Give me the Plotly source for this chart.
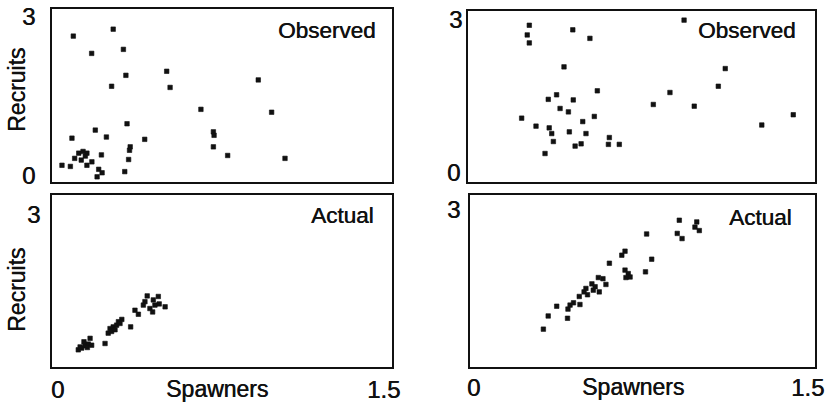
import plotly.graph_objects as go

# Spawner / recruit pairs for each panel
obs_left_x = [0.094, 0.270, 0.175, 0.315, 0.326, 0.263, 0.506, 0.521, 0.910, 0.657,
              0.969, 0.712, 0.715, 0.712, 0.775, 1.028, 0.088, 0.191, 0.240, 0.331,
              0.409, 0.345, 0.342, 0.338, 0.321, 0.218, 0.118, 0.137, 0.154, 0.147,
              0.100, 0.129, 0.154, 0.176, 0.044, 0.081, 0.206, 0.221, 0.199]
obs_left_y = [2.53, 2.65, 2.23, 2.30, 1.85, 1.66, 1.92, 1.64, 1.77, 1.26,
              1.21, 0.87, 0.81, 0.61, 0.46, 0.41, 0.76, 0.90, 0.78, 1.01,
              0.74, 0.61, 0.55, 0.39, 0.18, 0.47, 0.50, 0.53, 0.50, 0.45,
              0.41, 0.38, 0.29, 0.35, 0.29, 0.27, 0.22, 0.16, 0.09]

obs_right_x = [0.265, 0.256, 0.265, 0.453, 0.527, 0.934, 0.415, 1.112, 1.082, 0.873,
               0.559, 0.801, 0.978, 0.347, 0.383, 0.455, 0.398, 0.434, 0.232, 0.546,
               0.496, 0.294, 0.351, 0.362, 0.438, 0.510, 0.369, 0.611, 0.607, 0.654,
               0.463, 0.489, 0.333, 1.270, 1.406]
obs_right_y = [2.75, 2.58, 2.44, 2.67, 2.52, 2.84, 2.02, 1.99, 1.68, 1.57,
               1.60, 1.36, 1.33, 1.45, 1.53, 1.44, 1.29, 1.23, 1.12, 1.15,
               1.06, 0.98, 0.95, 0.85, 0.88, 0.85, 0.71, 0.78, 0.66, 0.66,
               0.63, 0.67, 0.50, 1.00, 1.18]

act_left_x = [0.116, 0.131, 0.146, 0.160, 0.168, 0.141, 0.124, 0.156, 0.175, 0.234,
              0.248, 0.256, 0.270, 0.285, 0.308, 0.293, 0.263, 0.278, 0.300, 0.347,
              0.366, 0.381, 0.403, 0.410, 0.420, 0.432, 0.444, 0.447, 0.469, 0.473,
              0.499, 0.454]
act_left_y = [0.30, 0.33, 0.37, 0.40, 0.50, 0.44, 0.35, 0.34, 0.38, 0.41,
              0.59, 0.67, 0.70, 0.73, 0.83, 0.79, 0.62, 0.65, 0.76, 0.70,
              0.99, 0.92, 1.08, 1.14, 1.24, 1.02, 0.96, 1.17, 1.23, 1.10,
              1.05, 1.08]

act_right_x = [0.319, 0.340, 0.377, 0.424, 0.426, 0.435, 0.450, 0.478, 0.475, 0.496,
               0.504, 0.511, 0.530, 0.536, 0.544, 0.562, 0.558, 0.578, 0.591, 0.606,
               0.660, 0.674, 0.674, 0.688, 0.696, 0.678, 0.763, 0.768, 0.790, 0.910,
               0.901, 0.922, 0.986, 0.978, 0.997]
act_right_y = [0.66, 0.89, 1.06, 0.85, 1.01, 1.08, 1.12, 1.09, 1.23, 1.31,
               1.37, 1.26, 1.45, 1.34, 1.40, 1.31, 1.56, 1.54, 1.44, 1.81,
               1.95, 2.02, 1.69, 1.63, 1.57, 1.56, 1.66, 2.32, 1.88, 2.56,
               2.33, 2.24, 2.53, 2.44, 2.38]

W, H = 825, 403
FONT = "Liberation Sans, Arial, sans-serif"
INK = "#111111"


def px_x(p):
    return p / W


def px_y(p):
    return 1 - p / H


# panel boxes in pixels: (left, right, top, bottom)
panels = [
    (obs_left_x, obs_left_y, (52, 392, 9, 182)),
    (obs_right_x, obs_right_y, (468, 815, 11, 182)),
    (act_left_x, act_left_y, (52, 392, 195, 367)),
    (act_right_x, act_right_y, (470, 815, 195, 367)),
]

fig = go.Figure()
layout_axes = {}
for i, (xs, ys, (l, r, t, b)) in enumerate(panels, start=1):
    sx = "" if i == 1 else str(i)
    fig.add_trace(go.Scatter(
        x=xs, y=ys, mode="markers",
        marker=dict(symbol="square", size=4.5, color=INK, line=dict(width=0.6, color=INK)),
        xaxis="x" + sx, yaxis="y" + sx, showlegend=False, hoverinfo="skip",
    ))
    axis_style = dict(showline=True, mirror=True, linewidth=2, linecolor=INK,
                      showgrid=False, zeroline=False, showticklabels=False, ticks="")
    layout_axes["xaxis" + sx] = dict(domain=[px_x(l), px_x(r)], range=[0, 1.5],
                                     anchor="y" + sx, **axis_style)
    layout_axes["yaxis" + sx] = dict(domain=[px_y(b), px_y(t)], range=[0, 3],
                                     anchor="x" + sx, **axis_style)

fig.update_layout(
    width=W, height=H, margin=dict(l=0, r=0, t=0, b=0),
    paper_bgcolor="white", plot_bgcolor="white",
    font=dict(family=FONT, color=INK, size=22),
    **layout_axes,
)

# text labels: (text, x_px, y_px, angle, size)
labels = [
    ("3", 28, 16, 0, 24), ("0", 28, 175, 0, 24), ("Recruits", 17, 90, -90, 23),
    ("Observed", 327, 31, 0, 22.5),
    ("3", 455, 19, 0, 24), ("0", 453, 173, 0, 24), ("Observed", 747, 30, 0, 22.5),
    ("3", 33, 214, 0, 24), ("Recruits", 17, 290, -90, 23), ("Actual", 342, 216, 0, 22.5),
    ("0", 58, 389, 0, 24), ("Spawners", 217, 389, 0, 23), ("1.5", 383, 389, 0, 24),
    ("3", 453, 209, 0, 24), ("Actual", 760, 217, 0, 22.5),
    ("0", 473, 387, 0, 24), ("Spawners", 633, 387, 0, 23), ("1.5", 807, 387, 0, 24),
]
for text, x, y, ang, sz in labels:
    fig.add_annotation(text=text, x=px_x(x), y=px_y(y), xref="paper", yref="paper",
                       showarrow=False, xanchor="center", yanchor="middle",
                       textangle=ang,
                       font=dict(family=FONT, size=sz, color=INK,
                                 shadow="0.5px 0px 0px #111111"))

fig.write_html("out.html")
